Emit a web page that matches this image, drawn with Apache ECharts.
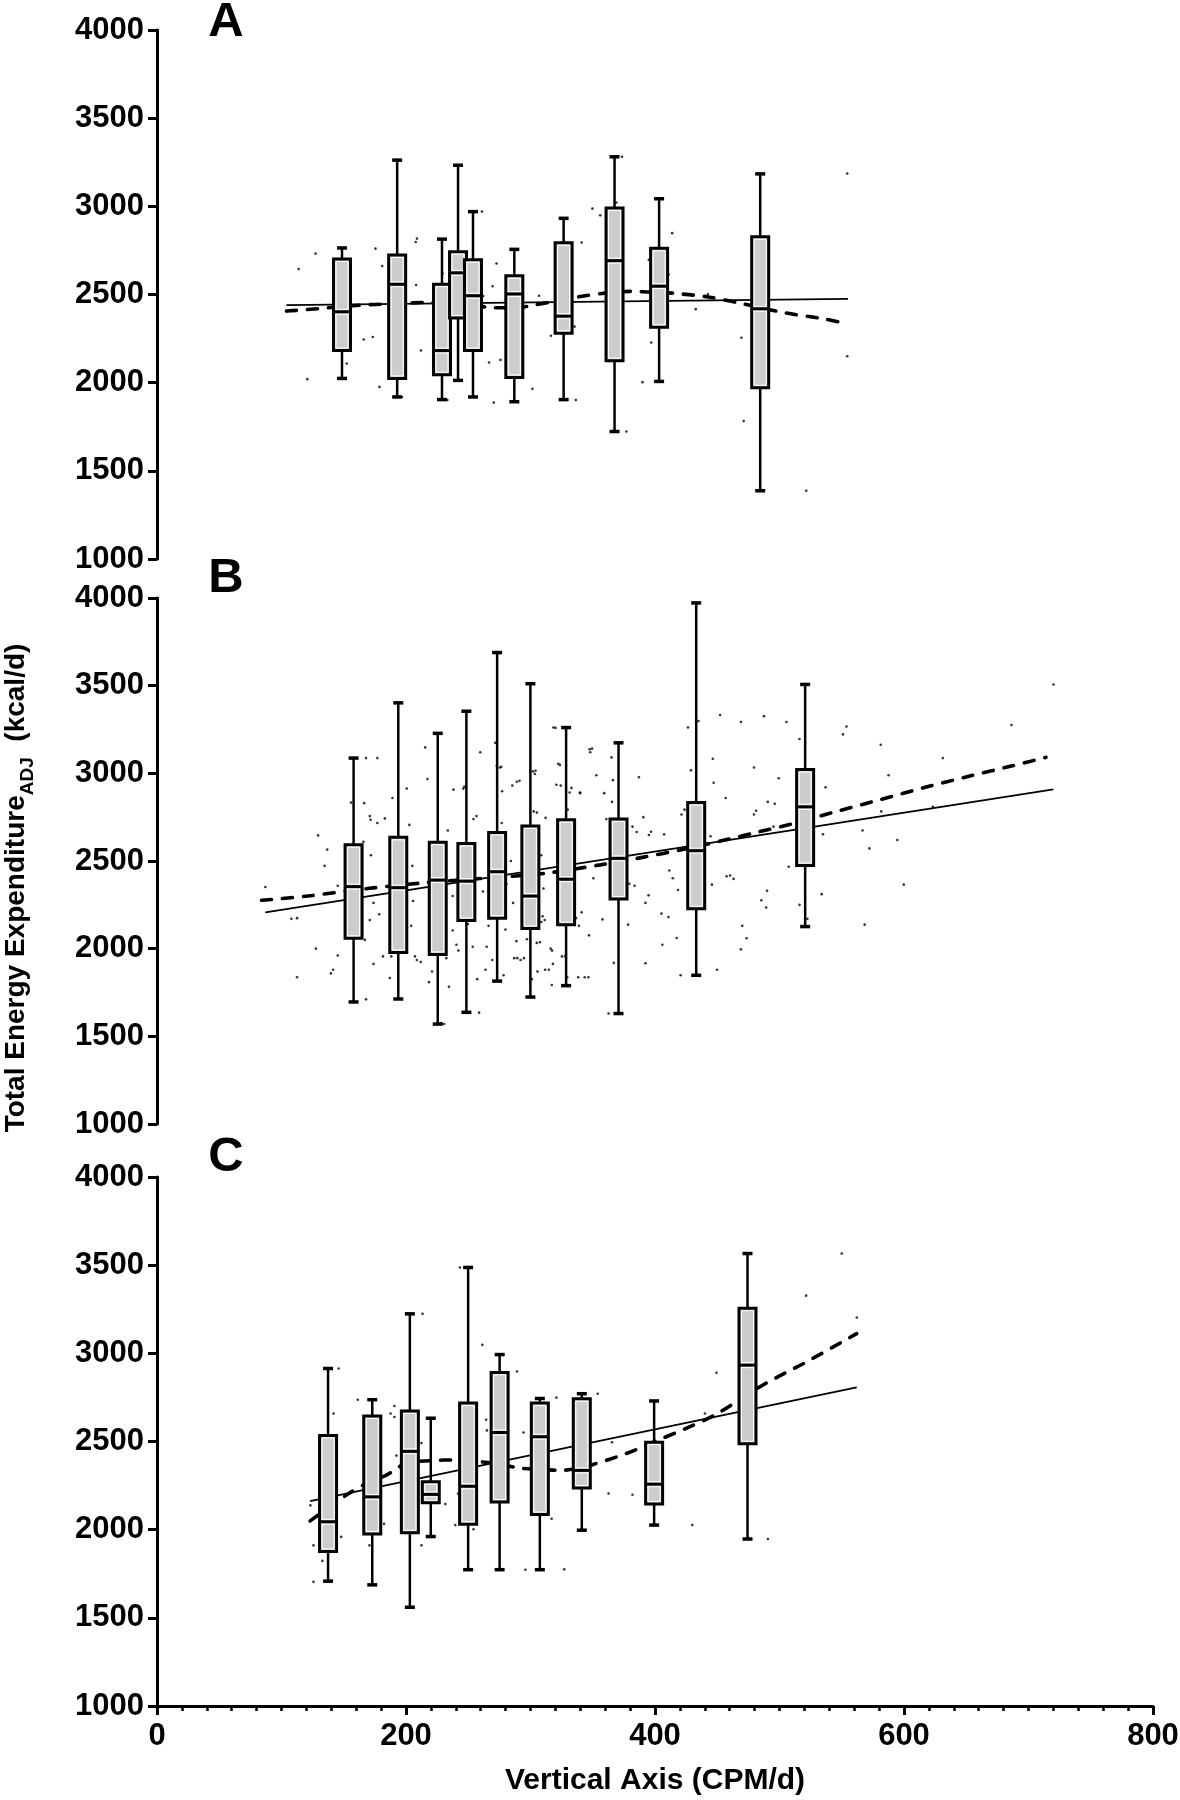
<!DOCTYPE html>
<html>
<head>
<meta charset="utf-8">
<script src="https://cdn.jsdelivr.net/npm/echarts@6/dist/echarts.min.js"></script>
<style>
  html, body { margin: 0; padding: 0; background: #fff; }
  #chart { width: 1180px; height: 1800px; }
</style>
</head>
<body>
<div id="chart"></div>
<script>
// ---- panel A ----
const aBoxX    = [148.6, 192.9, 228.9, 241.8, 253.8, 287.0, 326.6, 367.5, 403.3, 484.5];
const aBoxLow  = [2024, 1919, 1904, 2013, 1919, 1892, 1904, 1723, 2007, 1387];
const aBoxQ1   = [2182, 2024, 2045, 2367, 2182, 2030, 2280, 2125, 2314, 1971];
const aBoxMed  = [2402, 2558, 2182, 2623, 2493, 2503, 2377, 2692, 2547, 2419];
const aBoxQ3   = [2701, 2724, 2558, 2743, 2697, 2606, 2793, 2991, 2762, 2827];
const aBoxHigh = [2764, 3262, 2814, 3233, 2970, 2756, 2932, 3281, 3043, 3184];
const aDots = [
  [113.8,2644],[127.4,2732],[120.7,2020],[152.4,2108],[166,2245],[173.3,2259],[175.5,2760],
  [178.7,1976],[180.9,2661],[196.7,1919],[207.8,2798],[208.8,2817],[208.1,2554],[212,2182],
  [229.4,2619],[233.2,1902],[242,2013],[261,2970],[257.9,2697],[262,2491],[266.7,2114],
  [269.6,2547],[270.5,1887],[272.7,2676],[275.9,2129],[301.6,1965],[306.9,2493],[316.4,2266],
  [336.4,1902],[341.1,2795],[349.7,2987],[356,2949],[335.4,2318],[369,3022],[373.5,3281],
  [377,1723],[390,2003],[395,2697],[397,2228],[411,2613],[413.8,2848],[432.7,2417],
  [442.5,2503],[469.4,2255],[471.2,1782],[521.5,1387],[554.4,3186],[554.4,2150]
];
const aFitX = [104, 555];
const aFitY = [2440, 2475];
const aTrendX = [104, 130, 160, 190, 220, 245, 269, 290, 304, 320, 338, 359, 380, 400, 415, 443, 468, 503, 537, 555];
const aTrendY = [2406, 2420, 2438, 2448, 2455, 2455, 2425, 2426, 2442, 2462, 2486, 2507, 2518, 2512, 2507, 2486, 2451, 2398, 2360, 2333];

// ---- panel B ----
const bBoxX    = [157.9, 193.8, 225.5, 248.5, 273.2, 299.9, 328.6, 370.7, 433.1, 520.6];
const bBoxLow  = [1696, 1713, 1570, 1637, 1815, 1724, 1789, 1630, 1848, 2126];
const bBoxQ1   = [2059, 1978, 1967, 2161, 2174, 2115, 2137, 2283, 2228, 2474];
const bBoxMed  = [2354, 2348, 2391, 2385, 2439, 2300, 2396, 2515, 2559, 2809];
const bBoxQ3   = [2593, 2635, 2607, 2600, 2663, 2700, 2735, 2739, 2833, 3022];
const bBoxHigh = [3087, 3402, 3228, 3354, 3689, 3511, 3261, 3174, 3972, 3507];
const bDots = [
  [87,2352],[107.9,2170],[112.5,2174],[112.5,1837],[129.4,2646],[134.6,2472],[136.7,2565],
  [127.6,2000],[139.7,1859],[141.5,1880],[145.2,1961],[145.2,2359],[152.7,2517],[155.8,2833],
  [166.4,2830],[165.8,2609],[167,2050],[167.9,1711],[167.9,3087],[177,3087],[170.9,2756],
  [171.5,2735],[171.8,2533],[173.9,1913],[170.9,2163],[177,2717],[173.9,2261],[178.5,2196],
  [181.5,1956],[183,2743],[187,1833],[188.2,1956],[189.1,2859],[192.1,2489],[200.6,2913],
  [202.7,2706],[205.1,2472],[205.7,2272],[207.2,1956],[208.7,1935],[211.8,1924],[204.2,2130],
  [215.4,3148],[217.2,2967],[218.4,1809],[219.4,2033],[220.9,1870],[228.4,1576],[230.6,1570],
  [232.4,1946],[233.6,2674],[234.5,1783],[237.5,2300],[237.5,2104],[238.1,2907],[240.5,2022],
  [242.1,1989],[246,2913],[246.9,2924],[249.6,2141],[253.6,2011],[254.2,2739],[256.6,2756],
  [257.2,1826],[258.7,1635],[259.6,3120],[261.8,2326],[263.9,1880],[264.8,2011],[266.3,2130],
  [269.3,1935],[271.7,3174],[272.9,3043],[275.4,3033],[276.9,2717],[278.4,1848],[279.9,2109],
  [285.4,2930],[286.9,1946],[289,2952],[292,1935],[293.5,2461],[301.1,1826],[302,3011],
  [302.6,2783],[303.5,2996],[305,2033],[305.6,1870],[308.7,2152],[311.7,1880],[314.7,1880],
  [316.2,2000],[317.1,1793],[318.4,3261],[320.8,2935],[322.3,3054],[325.3,1956],[326.8,2135],
  [329.9,2793],[331.4,2891],[332.9,2917],[336.5,2174],[338.3,1837],[338.9,2130],[339.6,2891],
  [346.5,1837],[347.4,3137],[348,3120],
  [275.5,3685],[276.5,3037],[277.2,2898],[279.7,2543],[280.7,2370],[284.2,2500],[286,2261],
  [288.7,2043],[289.4,1946],[291.2,2957],[294.7,1946],[297.1,2054],[304.1,3015],[305.1,2776],
  [307.6,2037],[308.6,2533],[309.7,2185],[310.4,2343],[311.4,2163],[312.1,2746],[317.3,1989],
  [318,1913],[320.1,3259],[323.6,3048],[324.3,2930],[326.1,2163],[327.8,1956],[329.5,1837],
  [334.8,2461],[340,2887],[341.1,2207],[343.5,1837],[347,2076],[349.4,3141],[350.5,2402],
  [352.9,2989],[357.8,2167],[359.2,2887],[360.9,2739],[365.1,3091],[365.5,2837],[366.2,2961],
  [366.9,1919],[362.7,1630],[378.4,2137],[379.4,2370],[381.9,2696],[383.6,2359],[385.3,2665],
  [387.1,2978],[390.6,2750],[392.3,2261],[394.8,2304],[395.1,2648],[396.8,2667],[392.3,1917],
  [405.2,2200],[405.9,2022],[407.3,2652],[410.8,2180],[411.5,2446],[414.3,2402],[417.4,2061],
  [418.5,2335],[421.3,2765],[420.6,1848],[423.7,2793],[426.5,3261],[428.9,3017],[431,2761],
  [434.9,3298],[444.6,2641],[445.7,2365],[446.4,3083],[447.1,2946],[449.9,1880],[452.3,3333],
  [456.8,2859],[457.5,2413],[460.3,2417],[463.1,2398],[469,3293],[469,1996],[470.1,2130],
  [473.6,2059],[479.5,3033],[479.5,2765],[481.2,2787],[485.4,2276],[487.5,3326],[489.3,2235],
  [490,2330],[490.6,2837],[496.2,2826],[495.2,2696],[499.4,2972],[505.6,3293],[507.4,2467],
  [516.1,3196],[516.1,2250],[522.4,2170],[533.9,2311],[534.9,2652],[537,2920],[551,3222],
  [553.8,3267],[566.7,2674],[568.4,2137],[572.2,2572],[581.3,3163],[581.7,2783],[587.6,2989],
  [594.6,2620],[599.8,2365],[623.2,2809],[631.2,3087],[686.3,3276],[720.1,3507]
];
const bFitX = [87, 720];
const bFitY = [2207, 2909];
const bTrendX = [84, 121, 169, 212, 250, 280, 312, 356, 391, 422, 443, 478, 513, 548, 582, 617, 652, 687, 714];
const bTrendY = [2276, 2300, 2343, 2374, 2395, 2410, 2430, 2478, 2522, 2565, 2598, 2657, 2717, 2787, 2852, 2920, 2983, 3043, 3091];

// ---- panel C ----
const cBoxX    = [137.4, 172.9, 203.1, 219.9, 249.9, 275.2, 307.5, 341.2, 399.3, 474.3];
const cBoxLow  = [1708, 1687, 1560, 1961, 1773, 1773, 1773, 1997, 2026, 1947];
const cBoxQ1   = [1876, 1976, 1983, 2152, 2031, 2157, 2086, 2236, 2146, 2487];
const cBoxMed  = [2045, 2186, 2444, 2200, 2246, 2551, 2527, 2336, 2258, 2933];
const cBoxQ3   = [2534, 2644, 2673, 2272, 2718, 2892, 2718, 2742, 2496, 3256];
const cBoxHigh = [2914, 2737, 3224, 2632, 3487, 2993, 2744, 2771, 2730, 3566];
const cDots = [
  [123.2,2138],[125.7,1911],[125.7,1704],[132.8,1823],[141.8,2659],[145.9,2914],[148,1959],
  [161.3,2737],[170.6,1911],[173.7,2033],[182.4,2033],[187.6,2659],[190.7,2701],[190.7,2639],
  [192.3,2420],[212.4,2491],[212.4,1911],[213.3,3224],[215.5,2248],[231.6,2145],[239.6,2026],
  [241.8,2205],[243.3,3487],[254.2,2002],[261.3,3048],[264.4,2623],[265,2563],[278,2993],
  [289.2,2897],[294.4,2551],[295.9,1773],[317,2062],[320.8,2749],[327.1,1775],[354,2771],
  [362.7,2205],[365.5,2496],[381.9,2198],[430,2026],[440.1,2659],[449.4,2890],[490.7,1947],
  [521.4,3327],[550,3566],[562.1,3203]
];
const cFitX = [123, 562];
const cFitY = [2162, 2807];
const cTrendX = [123, 135, 154, 169, 185, 200, 219, 243, 262, 274, 293, 311, 324, 336, 349, 377, 405, 429, 450, 488, 520, 562];
const cTrendY = [2050, 2110, 2205, 2265, 2312, 2377, 2391, 2396, 2384, 2372, 2348, 2341, 2336, 2345, 2367, 2432, 2515, 2587, 2658, 2826, 2945, 3112];

// axis ranges
const yMin = 1000, yMax = 4000, yStep = 500;
const xMin = 0, xMax = 800, xStep = 200;

const FONT = "'Liberation Sans', Arial, sans-serif";
const chart = echarts.init(document.getElementById('chart'), null, { renderer: 'canvas' });

const zip = (xs, ys) => xs.map((x, i) => [x, ys[i]]);
const boxRows = (xs, lo, q1, md, q3, hi) => xs.map((x, i) => [x, lo[i], q1[i], md[i], q3[i], hi[i]]);

function renderBox(params, api) {
  const x = api.value(0);
  const pLow = api.coord([x, api.value(1)]);
  const pQ1 = api.coord([x, api.value(2)]);
  const pMed = api.coord([x, api.value(3)]);
  const pQ3 = api.coord([x, api.value(4)]);
  const pHigh = api.coord([x, api.value(5)]);
  const cx = pLow[0];
  const hw = 8.5, cw = 5;
  const black = { stroke: '#000', lineWidth: 2.5 };
  const white = { stroke: '#fff', lineWidth: 1 };
  return {
    type: 'group',
    children: [
      { type: 'line', shape: { x1: cx, y1: pHigh[1], x2: cx, y2: pQ3[1] }, style: black },
      { type: 'line', shape: { x1: cx, y1: pQ1[1], x2: cx, y2: pLow[1] }, style: black },
      { type: 'line', shape: { x1: cx - cw, y1: pHigh[1], x2: cx + cw, y2: pHigh[1] }, style: { stroke: '#000', lineWidth: 3.5 } },
      { type: 'line', shape: { x1: cx - cw, y1: pLow[1], x2: cx + cw, y2: pLow[1] }, style: { stroke: '#000', lineWidth: 3.5 } },
      { type: 'rect', shape: { x: cx - hw, y: pQ3[1], width: hw * 2, height: pQ1[1] - pQ3[1] },
        style: { fill: '#cccccc', stroke: '#000', lineWidth: 3 } },
      { type: 'rect', shape: { x: cx - hw + 2.5, y: pQ3[1] + 2.5, width: hw * 2 - 5, height: Math.max(0, pQ1[1] - pQ3[1] - 5) },
        style: { fill: null, stroke: '#fff', lineWidth: 1 } },
      { type: 'line', shape: { x1: cx - hw + 2, y1: pMed[1] - 2.5, x2: cx + hw - 2, y2: pMed[1] - 2.5 }, style: white },
      { type: 'line', shape: { x1: cx - hw + 2, y1: pMed[1] + 2.5, x2: cx + hw - 2, y2: pMed[1] + 2.5 }, style: white },
      { type: 'line', shape: { x1: cx - hw, y1: pMed[1], x2: cx + hw, y2: pMed[1] }, style: { stroke: '#000', lineWidth: 3 } }
    ]
  };
}

const grids = [
  { left: 157, width: 996, top: 30, height: 529 },
  { left: 157, width: 996, top: 598, height: 526 },
  { left: 157, width: 996, top: 1177, height: 529 }
].map(g => Object.assign(g, { outerBoundsMode: 'none', containLabel: false }));

const labelStyle = { color: '#000', fontFamily: FONT, fontWeight: 'bold', fontSize: 31, formatter: v => String(v) };

const yAxes = [0, 1, 2].map(i => ({
  type: 'value', gridIndex: i, min: yMin, max: yMax, interval: yStep,
  axisLine: { show: true, lineStyle: { color: '#000', width: 3 } },
  axisTick: { show: true, length: 9, lineStyle: { color: '#000', width: 3 } },
  axisLabel: Object.assign({ margin: 13 }, labelStyle),
  splitLine: { show: false }
}));

const xAxes = [0, 1, 2].map(i => ({
  type: 'value', gridIndex: i, min: xMin, max: xMax, interval: xStep,
  show: i === 2,
  name: i === 2 ? 'Vertical Axis (CPM/d)' : '',
  nameLocation: 'middle', nameGap: 60,
  nameTextStyle: { color: '#000', fontFamily: FONT, fontWeight: 'bold', fontSize: 30 },
  axisLine: { show: true, onZero: false, lineStyle: { color: '#000', width: 3 } },
  axisTick: { show: true, length: 9, lineStyle: { color: '#000', width: 3 } },
  minorTick: { show: true, splitNumber: 10, length: 5, lineStyle: { color: '#000', width: 2.5 } },
  axisLabel: Object.assign({ margin: 15 }, labelStyle),
  splitLine: { show: false }
}));

const panels = [
  { dots: aDots, fit: zip(aFitX, aFitY), trend: zip(aTrendX, aTrendY), boxes: boxRows(aBoxX, aBoxLow, aBoxQ1, aBoxMed, aBoxQ3, aBoxHigh) },
  { dots: bDots, fit: zip(bFitX, bFitY), trend: zip(bTrendX, bTrendY), boxes: boxRows(bBoxX, bBoxLow, bBoxQ1, bBoxMed, bBoxQ3, bBoxHigh) },
  { dots: cDots, fit: zip(cFitX, cFitY), trend: zip(cTrendX, cTrendY), boxes: boxRows(cBoxX, cBoxLow, cBoxQ1, cBoxMed, cBoxQ3, cBoxHigh) }
];

const series = [];
panels.forEach((p, i) => {
  series.push({
    type: 'scatter', xAxisIndex: i, yAxisIndex: i, data: p.dots,
    symbolSize: 2.6, itemStyle: { color: '#000' }, silent: true, z: 1
  });
  series.push({
    type: 'line', xAxisIndex: i, yAxisIndex: i, data: p.fit,
    showSymbol: false, lineStyle: { color: '#000', width: 1.8 }, silent: true, z: 2
  });
  series.push({
    type: 'line', xAxisIndex: i, yAxisIndex: i, data: p.trend, smooth: 0.3,
    showSymbol: false, lineStyle: { color: '#000', width: 3.6, type: [10, 11], cap: 'round' }, silent: true, z: 2
  });
  series.push({
    type: 'custom', xAxisIndex: i, yAxisIndex: i, data: p.boxes,
    encode: { x: 0, y: [1, 2, 3, 4, 5] }, renderItem: renderBox, silent: true, z: 3
  });
});

const letterStyle = { fill: '#000', fontFamily: FONT, fontWeight: 'bold', fontSize: 49, align: 'center', verticalAlign: 'middle' };

chart.setOption({
  animation: false,
  backgroundColor: '#fff',
  grid: grids,
  xAxis: xAxes,
  yAxis: yAxes,
  series: series,
  graphic: [
    { type: 'text', x: 226, y: 22, style: Object.assign({ text: 'A' }, letterStyle) },
    { type: 'text', x: 226, y: 578, style: Object.assign({ text: 'B' }, letterStyle) },
    { type: 'text', x: 226, y: 1157, style: Object.assign({ text: 'C' }, letterStyle) },
    {
      type: 'text', x: 20, y: 888, rotation: Math.PI / 2,
      style: {
        text: '{m|Total Energy Expenditure}{s|ADJ}{m|  (kcal/d)}',
        align: 'center', verticalAlign: 'middle', fill: '#000',
        rich: {
          m: { fontFamily: FONT, fontWeight: 'bold', fontSize: 28, fill: '#000', verticalAlign: 'bottom', padding: [0, 0, 7, 0] },
          s: { fontFamily: FONT, fontWeight: 'bold', fontSize: 19, fill: '#000', verticalAlign: 'bottom' }
        }
      }
    }
  ]
});
</script>
</body>
</html>
